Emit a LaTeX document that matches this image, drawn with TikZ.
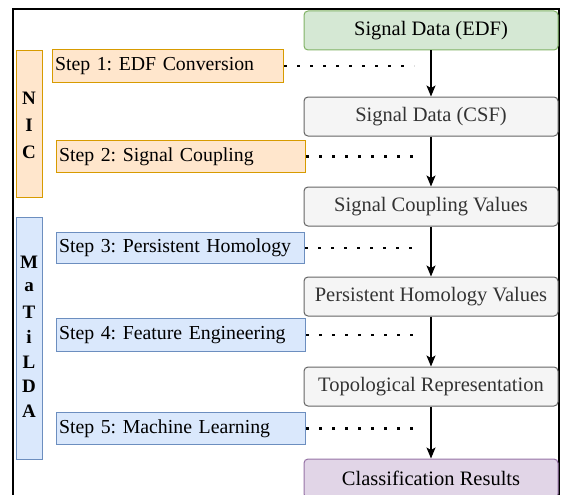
\documentclass[tikz,border=0pt]{standalone}
\usepackage{fontspec}
\setmainfont{Liberation Serif}
\usetikzlibrary{arrows.meta}
\definecolor{gfill}{HTML}{D5E8D4}\definecolor{gdraw}{HTML}{82B366}
\definecolor{ofill}{HTML}{FFE6CC}\definecolor{odraw}{HTML}{D79B00}
\definecolor{bfill}{HTML}{DAE8FC}\definecolor{bdraw}{HTML}{6C8EBF}
\definecolor{pfill}{HTML}{E1D5E7}\definecolor{pdraw}{HTML}{9673A6}
\definecolor{sfill}{HTML}{F5F5F5}\definecolor{sdraw}{HTML}{666666}
\definecolor{stext}{HTML}{333333}
\frenchspacing
\begin{document}
\begin{tikzpicture}[x=1pt,y=-1pt,
  rbox/.style={font=\fontsize{20.5}{24}\selectfont,rounded corners=4pt,line width=1pt,minimum width=254pt,minimum height=39pt,inner sep=0pt,anchor=center},
  grey/.style={rbox,fill=sfill,draw=sdraw,text=stext},
  stepbox/.style={font=\fontsize{19.8}{23}\selectfont,line width=1pt,anchor=north west,inner xsep=2.5pt,inner ysep=0pt,minimum height=32pt,align=left},
  orange/.style={stepbox,fill=ofill,draw=odraw},
  blue/.style={stepbox,fill=bfill,draw=bdraw},
  side/.style={line width=1pt,anchor=north west,minimum width=26pt,inner sep=0pt},
  letter/.style={font=\fontsize{19}{20}\selectfont\bfseries,anchor=center,inner sep=0pt},
  flow/.style={line width=1.2pt,-{Stealth[length=11pt,width=9pt,inset=2.5pt]}},
  dots/.style={line width=2.6pt,dash pattern=on 2.6pt off 10.4pt}
]
\useasboundingbox (0,0) rectangle (562,495);
\begin{scope}
\clip (0,0) rectangle (562,495);
\draw[line width=2pt] (13,9) rectangle (559,520);
% side boxes
\node[side,fill=ofill,draw=odraw,minimum height=147pt] (nic) at (16,50) {};
\node[side,fill=bfill,draw=bdraw,minimum height=242pt] (mat) at (16,217) {};
\foreach \t/\y [count=\i] in {N/98,I/125,C/152}{\node[letter] (n\i) at (29,\y) {\t};}
\foreach \t/\y [count=\i] in {M/262,a/287,T/312,i/337,L/362,D/386,A/411}{\node[letter] (m\i) at (29,\y) {\t};}
% right boxes
\node[rbox,fill=gfill,draw=gdraw] (edf) at (431,30.5) {Signal Data (EDF)};
\node[grey] (csf) at (431,116.5) {Signal Data (CSF)};
\node[grey] (scv) at (431,206.5) {Signal Coupling Values};
\node[grey] (phv) at (431,296.5) {Persistent Homology Values};
\node[grey] (tr) at (431,386.5) {Topological Representation};
\node[rbox,fill=pfill,draw=pdraw] (cr) at (431,478.5) {Classification Results};
% step boxes
\node[orange,text width=226pt,minimum height=33pt] (s1) at (52,49) {Step 1: EDF Conversion};
\node[orange,text width=244pt] (s2) at (56,140) {Step 2: Signal Coupling};
\node[blue,text width=243pt,minimum height=31pt] (s3) at (56,232) {Step 3: Persistent Homology};
\node[blue,text width=244pt,minimum height=33pt] (s4) at (56,318) {Step 4: Feature Engineering};
\node[blue,text width=244pt] (s5) at (56,412) {Step 5: Machine Learning};
% flow arrows
\foreach \a/\b in {edf/csf,csf/scv,scv/phv,phv/tr,tr/cr}{\draw[flow] (\a.south) -- (\b.north);}
% dotted links
\foreach \s in {s1,s2,s3,s4,s5}{
  \coordinate (\s e) at (414,0);
  \draw[dots] (\s.east) -- (\s.east -| \s e);
}
\end{scope}
\end{tikzpicture}
\end{document}
